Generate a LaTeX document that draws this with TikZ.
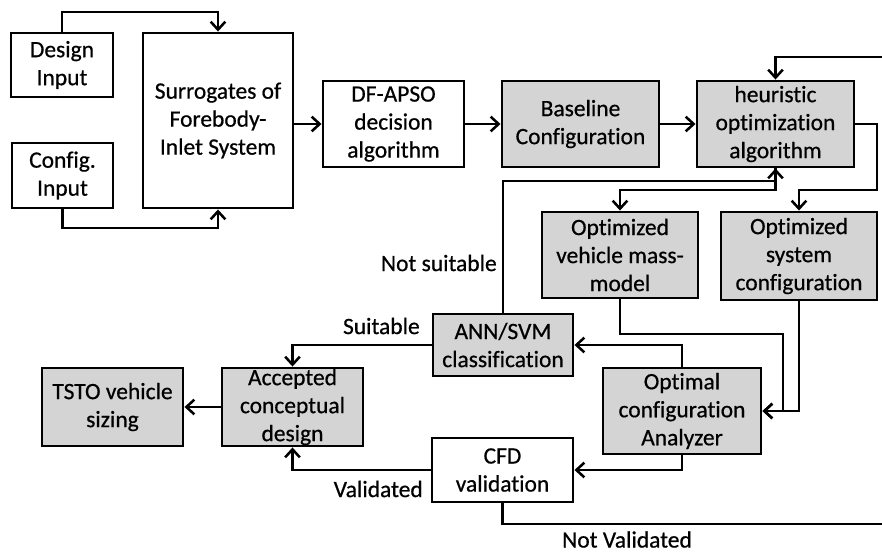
\documentclass[tikz,border=0pt]{standalone}
\usepackage{fontspec}
\setmainfont{Carlito}[RawFeature=-liga, FakeBold=0.6]
\usetikzlibrary{arrows.meta}
\newdimen\pxu
\pxu=0.75pt
\tikzset{
  bx/.style 2 args={draw, line width=2.2pt, minimum width=#1\pxu, minimum height=#2\pxu,
    inner sep=0pt, align=center, font=\fontsize{17.6}{21}\selectfont},
  shaded/.style={fill=black!17},
  conn/.style={line width=2.2pt, line join=miter},
  arr/.style={conn, -{Straight Barb[length=6pt,width=11pt,line width=1.9pt]}},
  lbl/.style={font=\fontsize{17.6}{21}\selectfont, inner sep=0pt},
}
\begin{document}
\begin{tikzpicture}[x=0.75pt,y=-0.75pt]
\useasboundingbox (0,0) rectangle (882,553);
\clip (0,0) rectangle (882,553);
% nodes
\node[bx={102}{64}] (des) at (62,65) {Design\\Input};
\node[bx={101}{65}] (cfg) at (62.5,175.5) {Config.\\Input};
\node[bx={150}{175}] (sur) at (218,120.5) {Surrogates of\\Forebody-\\Inlet System};
\node[bx={141}{86}] (df) at (393.5,124) {DF-APSO\\decision\\algorithm};
\node[bx={157}{86},shaded] (base) at (580.5,124) {Baseline\\Configuration};
\node[bx={157}{86},shaded] (heur) at (775.5,124) {heuristic\\optimization\\algorithm};
\node[bx={156}{86},shaded] (veh) at (620,255) {Optimized\\vehicle mass-\\model};
\node[bx={156}{88},shaded] (sys) at (799,256) {Optimized\\system\\configuration};
\node[bx={140}{62},shaded] (ann) at (503,345) {ANN/SVM\\classification};
\node[bx={158}{86},shaded] (opt) at (682,411) {Optimal\\configuration\\Analyzer};
\node[bx={141}{64}] (cfd) at (502.5,470) {CFD\\validation};
\node[bx={141}{78},shaded] (acc) at (292.5,407) {Accepted\\conceptual\\design};
\node[bx={141}{78},shaded] (tsto) at (112.5,407) {TSTO vehicle\\sizing};
% offpage return coordinates
\coordinate (rb) at (890,524);
\coordinate (rt) at (890,57);
% connectors
\draw[arr] (des.north) |- (sur.north |- 0,12) -- (sur.north);
\draw[arr] (cfg.south) |- (sur.south |- 0,228) -- (sur.south);
\draw[arr] (sur.east |- df.west) -- (df.west);
\draw[arr] (df.east) -- (base.west);
\draw[arr] (base.east) -- (heur.west);
\draw[arr] (heur.east) -| (877,190) -| (sys.north);
\draw[arr] (heur.south) -- (heur.south |- 0,190) -| (veh.north);
\draw[arr] (ann.north) |- (heur.south |- 0,181) -- (heur.south);
\draw[arr] (veh.south) |- (783,334) |- (opt.east);
\draw[arr] (sys.south) |- (opt.east);
\draw[arr] (opt.north) |- (ann.east);
\draw[arr] (opt.south) |- (cfd.east);
\draw[arr] (ann.west) -| (acc.north);
\draw[arr] (cfd.west) -| (acc.south);
\draw[arr] (acc.west) -- (tsto.east);
\draw[arr] (cfd.south) |- (rb) -- (rt) -| (heur.north);
% labels
\node[lbl, anchor=east] (lns) at (497,263) {Not suitable};
\node[lbl, anchor=east] (lsu) at (420,326) {Suitable};
\node[lbl, anchor=east] (lva) at (423,489) {Validated};
\node[lbl] (lnv) at (627,539.5) {Not Validated};
\end{tikzpicture}
\end{document}
